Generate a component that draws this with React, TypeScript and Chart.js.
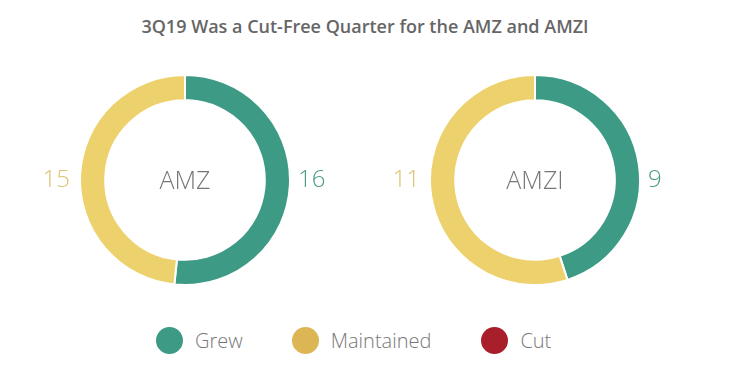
import React, { useEffect, useRef } from "react";
import { Chart, registerables } from "chart.js";

Chart.register(...registerables);

const title = "3Q19 Was a Cut-Free Quarter for the AMZ and AMZI";
const categories = ["Grew", "Maintained", "Cut"];
const amzValues = [16, 15, 0];
const amziValues = [9, 11, 0];
const indexNames = ["AMZ", "AMZI"];
const ringColors = ["#3d9a84", "#edd16c", "#a91e2b"];
const legendColors = ["#3d9a84", "#dcb555", "#a91e2b"];
const labelColors = ["#4c9a88", "#dcc371", "#a91e2b"];

const FONT = "'Open Sans', 'Noto Sans', sans-serif";

const labelPlugin = {
  id: "ringLabels",
  afterDatasetsDraw(chart: any) {
    const { ctx } = chart;
    const meta = chart.getDatasetMeta(0);
    const arcs = meta.data;
    if (!arcs.length) return;
    const cx = arcs[0].x;
    const cy = arcs[0].y;
    const r = arcs[0].outerRadius;
    ctx.save();
    ctx.textBaseline = "middle";
    ctx.font = `300 25px ${FONT}`;
    ctx.fillStyle = "#777777";
    ctx.textAlign = "center";
    ctx.fillText(chart.options.plugins.ringLabels.name, cx, cy + 2);
    ctx.font = `300 24px ${FONT}`;
    const data = chart.data.datasets[0].data;
    arcs.forEach((arc: any, i: number) => {
      const v = data[i];
      if (!v) return;
      const mid = (arc.startAngle + arc.endAngle) / 2;
      const right = Math.cos(mid) >= 0;
      ctx.fillStyle = labelColors[i];
      ctx.textAlign = right ? "left" : "right";
      ctx.fillText(String(v), right ? cx + r + 8 : cx - r - 10, cy);
    });
    ctx.restore();
  },
};

function Ring({ values, name, left }: { values: number[]; name: string; left: number }) {
  const ref = useRef<HTMLCanvasElement>(null);
  useEffect(() => {
    const chart = new Chart(ref.current!, {
      type: "doughnut",
      data: {
        labels: categories,
        datasets: [
          {
            data: values,
            backgroundColor: ringColors,
            borderColor: "#ffffff",
            borderWidth: 2,
            hoverOffset: 0,
          },
        ],
      },
      options: {
        responsive: false,
        animation: false,
        cutout: "76%",
        layout: { padding: 0 },
        plugins: {
          legend: { display: false },
          tooltip: { enabled: false },
          ringLabels: { name },
        } as any,
      },
      plugins: [labelPlugin],
    });
    return () => chart.destroy();
  }, []);
  return (
    <canvas
      ref={ref}
      width={300}
      height={212}
      style={{ position: "absolute", left, top: 74, width: 300, height: 212 }}
    />
  );
}

export default function App() {
  useEffect(() => {
    document.body.style.margin = "0";
  }, []);
  return (
    <div style={{ position: "relative", width: 736, height: 377, background: "#fff", overflow: "hidden" }}>
      <div
        style={{
          position: "absolute",
          top: 14,
          left: 0,
          width: 730,
          textAlign: "center",
          fontFamily: FONT,
          fontWeight: 600,
          fontSize: 18,
          color: "#666666",
        }}
      >
        {title}
      </div>
      <Ring values={amzValues} name={indexNames[0]} left={35} />
      <Ring values={amziValues} name={indexNames[1]} left={385} />
      <div
        style={{
          position: "absolute",
          top: 327,
          left: 156,
          display: "flex",
          alignItems: "center",
          fontFamily: FONT,
          fontWeight: 300,
          fontSize: 20,
          color: "#777777",
        }}
      >
        {categories.map((c, i) => (
          <div key={c} style={{ display: "flex", alignItems: "center", marginRight: i === 0 ? 49 : 50 }}>
            <span
              style={{
                display: "inline-block",
                width: 27,
                height: 27,
                borderRadius: "50%",
                background: legendColors[i],
                marginRight: 12,
              }}
            />
            <span>{c}</span>
          </div>
        ))}
      </div>
    </div>
  );
}
